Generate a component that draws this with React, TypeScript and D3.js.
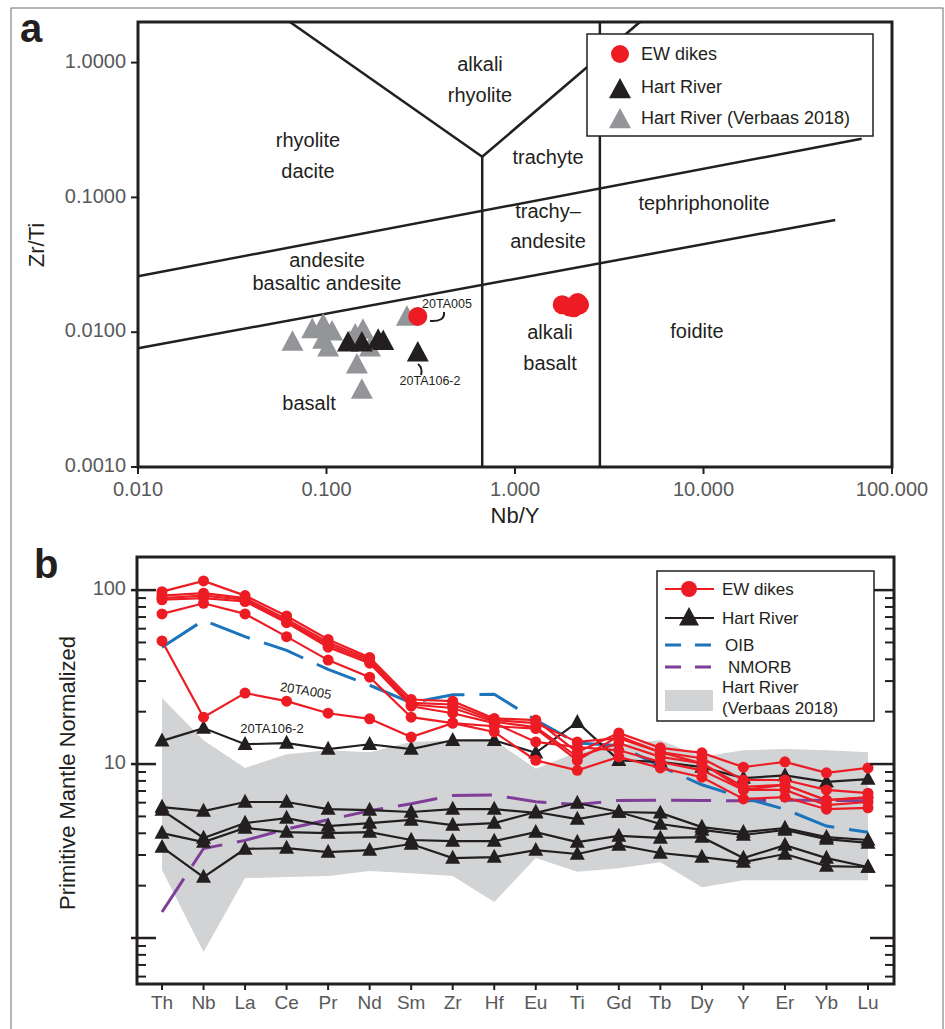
import React from 'react';
import * as d3 from 'd3';

// ---- panel a data (Nb/Y vs Zr/Ti) ----
const ewDikesNbY = [0.305, 1.78, 1.95, 2.05, 2.15, 2.2];
const ewDikesZrTi = [0.0131, 0.016, 0.0154, 0.0152, 0.0166, 0.016];

const hartNbY = [0.13, 0.154, 0.188, 0.2, 0.305];
const hartZrTi = [0.0083, 0.0083, 0.0087, 0.0085, 0.007];

const verbaasNbY = [0.066, 0.084, 0.096, 0.107, 0.096, 0.102, 0.145, 0.154, 0.156, 0.142, 0.17, 0.267, 0.133];
const verbaasZrTi = [0.0084, 0.0104, 0.0113, 0.01, 0.0087, 0.0076, 0.0057, 0.0037, 0.0103, 0.0095, 0.0076, 0.0129, 0.0084];

// field boundaries [[x1, y1], [x2, y2]]
const fieldLines: [number, number][][] = [
  [[0.064, 2.0], [0.67, 0.2]],
  [[0.67, 0.2], [4.6, 2.0]],
  [[0.67, 0.2], [0.67, 0.001]],
  [[2.82, 2.0], [2.82, 0.001]],
  [[0.01, 0.026], [69, 0.272]],
  [[0.01, 0.0076], [50, 0.068]],
];

const xTicksA = [0.01, 0.1, 1, 10, 100];
const xTickLabelsA = ['0.010', '0.100', '1.000', '10.000', '100.000'];
const yTicksA = [0.001, 0.01, 0.1, 1];
const yTickLabelsA = ['0.0010', '0.0100', '0.1000', '1.0000'];

// ---- panel b data (spider diagram) ----
const elements = ['Th', 'Nb', 'La', 'Ce', 'Pr', 'Nd', 'Sm', 'Zr', 'Hf', 'Eu', 'Ti', 'Gd', 'Tb', 'Dy', 'Y', 'Er', 'Yb', 'Lu'];

const ewDike1 = [98, 113, 93, 71, 52, 41, 23.5, 23, 18.3, 17.9, 11.7, 15.1, 12.4, 11.6, 9.6, 10.3, 8.9, 9.5];
const ewDike2 = [93, 96, 90, 68, 50, 40, 22.5, 22, 17.9, 17.2, 13.4, 14.1, 11.7, 10.8, 8.1, 8.1, 7.1, 6.8];
const ewDike3 = [90, 93, 88, 66, 48.5, 39, 22, 21, 17.5, 16.3, 11, 13.2, 11, 10.1, 7.4, 7.6, 6.2, 6.45];
const ewDike4 = [88, 90, 86, 65, 47, 38, 21.5, 19.6, 17.2, 13.4, 12.5, 12, 10.3, 9.2, 7.1, 7.1, 5.8, 6.05];
const ewDike5 = [73, 84, 73, 54, 39.6, 31.6, 18.6, 17.2, 15.3, 10.5, 9.2, 11, 9.5, 8.4, 6.3, 6.45, 5.5, 5.6];
const ew20TA005 = [51, 18.6, 25.6, 23, 19.6, 18.2, 14.3, 17.2, 16.5, 16, 10.5, 14.5, 11.7, 10.1, 7.1, 7.6, 6.2, 6.4];

const hr20TA106 = [13.6, 16.1, 13, 13.2, 12.2, 13, 12.2, 13.7, 13.7, 11.6, 17.4, 10.5, 10.3, 9.6, 8.3, 8.6, 7.9, 8.2];
const hart2 = [5.66, 5.37, 6.05, 6.05, 5.51, 5.44, 5.3, 5.51, 5.51, 5.24, 5.97, 5.3, 5.24, 4.34, 4.06, 4.29, 3.8, 3.66];
const hart3 = [5.44, 3.76, 4.58, 4.89, 4.4, 4.58, 4.77, 4.46, 4.58, 5.3, 4.83, 5.3, 4.52, 4.18, 3.91, 4.18, 3.7, 3.52];
const hart4 = [4.01, 3.56, 4.29, 4.06, 4.01, 4.06, 3.66, 3.61, 3.61, 4.06, 3.56, 3.86, 3.76, 3.8, 2.88, 3.42, 2.88, 2.56];
const hart5 = [3.33, 2.24, 3.25, 3.29, 3.12, 3.2, 3.47, 2.88, 2.92, 3.2, 3.04, 3.42, 3.08, 2.92, 2.73, 3.04, 2.59, 2.56];

const oib = [47, 67, 54, 45, 35, 28.4, 22.5, 25, 25.2, 17.9, 13.2, 12.8, 9.7, 7.6, 6.4, 5.5, 4.4, 4.05];
const nmorb = [1.41, 3.27, 3.64, 4.23, 4.78, 5.39, 5.92, 6.6, 6.63, 6.07, 5.85, 6.17, 6.2, 6.17, 6.15, 6.19, 6.19, 6.15];

const verbaasUpper = [24, 13.7, 9.5, 11.4, 12, 11.7, 13.4, 13.7, 13.7, 9.4, 11.7, 12.9, 13.7, 11, 12, 12.2, 12, 11.7];
const verbaasLower = [2.46, 0.83, 2.21, 2.24, 2.27, 2.43, 2.36, 2.27, 1.61, 2.88, 2.4, 2.52, 2.73, 1.96, 2.15, 2.15, 2.15, 2.15];

const yMajorB = [1, 10, 100];
const yMajorLabelsB = ['', '10', '100'];

const RED = '#ed1c24';
const BLACK = '#231f20';
const GRAY_TRI = '#939598';
const ENVELOPE = '#d1d3d4';
const BLUE = '#1c75bc';
const PURPLE = '#7f3f98';
const TICK_TEXT = '#58595b';
const FONT = '"Liberation Sans", Arial, Helvetica, sans-serif';

const tri = (cx: number, cy: number, w: number) =>
  `M${cx},${cy - w * 0.55}L${cx + w / 2},${cy + w * 0.38}L${cx - w / 2},${cy + w * 0.38}Z`;

const PanelA = () => {
  const x = d3.scaleLog().domain([0.01, 100]).range([138, 892]);
  const y = d3.scaleLog().domain([0.001, 2.0]).range([467, 22]);

  const regionLabels: [string, number, number][] = [
    ['alkali', 480, 66], ['rhyolite', 480, 97],
    ['rhyolite', 308, 142], ['dacite', 308, 173],
    ['trachyte', 548, 159],
    ['tephriphonolite', 704, 205],
    ['trachy\u2013', 548, 213], ['andesite', 548, 243],
    ['andesite', 327, 262], ['basaltic andesite', 327, 285],
    ['alkali', 550, 334], ['basalt', 550, 365],
    ['foidite', 697, 333],
    ['basalt', 309, 405],
  ];

  return (
    <g fontFamily={FONT}>
      <text x={20} y={42} fontSize={40} fontWeight="bold" fill={BLACK}>a</text>

      {fieldLines.map((l, i) => (
        <line key={i} x1={x(l[0][0])} y1={y(l[0][1])} x2={x(l[1][0])} y2={y(l[1][1])}
          stroke={BLACK} strokeWidth={2.5} />
      ))}

      {regionLabels.map(([t, lx, ly], i) => (
        <text key={i} x={lx} y={ly} textAnchor="middle" dominantBaseline="middle" fontSize={20} fill={BLACK}>{t}</text>
      ))}

      {verbaasNbY.map((v, i) => (
        <path key={'g' + i} d={tri(x(v), y(verbaasZrTi[i]), 22)} fill={GRAY_TRI} />
      ))}
      {hartNbY.map((v, i) => (
        <path key={'h' + i} d={tri(x(v), y(hartZrTi[i]), 22)} fill={BLACK} />
      ))}
      {ewDikesNbY.map((v, i) => (
        <circle key={'e' + i} cx={x(v)} cy={y(ewDikesZrTi[i])} r={9.5} fill={RED} />
      ))}

      {/* sample call-outs */}
      <text x={447} y={308} textAnchor="middle" fontSize={12.5} fill={BLACK}>20TA005</text>
      <path d="M430,321 Q445,322 444,312" fill="none" stroke={BLACK} strokeWidth={2} />
      <text x={430} y={385} textAnchor="middle" fontSize={12.5} fill={BLACK}>20TA106-2</text>
      <path d="M418,364 Q423,368 421,375" fill="none" stroke={BLACK} strokeWidth={2} />

      {/* frame */}
      <rect x={138} y={22} width={754} height={445} fill="none" stroke={BLACK} strokeWidth={3} />

      {yTicksA.map((t, i) => (
        <g key={t}>
          <line x1={131} x2={138} y1={y(t)} y2={y(t)} stroke={BLACK} strokeWidth={2} />
          <text x={126} y={y(t)} textAnchor="end" dominantBaseline="middle" fontSize={20} fill={TICK_TEXT}>{yTickLabelsA[i]}</text>
        </g>
      ))}
      {xTicksA.map((t, i) => (
        <g key={t}>
          <line x1={x(t)} x2={x(t)} y1={467} y2={474} stroke={BLACK} strokeWidth={2} />
          <text x={x(t)} y={496} textAnchor="middle" fontSize={20} fill={TICK_TEXT}>{xTickLabelsA[i]}</text>
        </g>
      ))}

      <text transform="translate(44,245) rotate(-90)" textAnchor="middle" fontSize={22} fill={BLACK}>Zr/Ti</text>
      <text x={515} y={523} textAnchor="middle" fontSize={22} fill={BLACK}>Nb/Y</text>

      {/* legend */}
      <rect x={587} y={34} width={286} height={102} fill="#fff" stroke={BLACK} strokeWidth={1.5} />
      <circle cx={620} cy={54} r={9} fill={RED} />
      <text x={641} y={60} fontSize={18} fill={BLACK}>EW dikes</text>
      <path d={tri(620, 90, 22)} fill={BLACK} />
      <text x={641} y={93} fontSize={18} fill={BLACK}>Hart River</text>
      <path d={tri(620, 120, 22)} fill={GRAY_TRI} />
      <text x={641} y={124} fontSize={18} fill={BLACK}>Hart River (Verbaas 2018)</text>
    </g>
  );
};

const PanelB = () => {
  const x = d3.scalePoint<string>().domain(elements).range([162, 868]);
  const y = d3.scaleLog().domain([0.544, 155]).range([984, 557]);

  const line = d3.line<number>()
    .x((_, i) => x(elements[i]) as number)
    .y(d => y(d));

  const area = d3.area<number>()
    .x((_, i) => x(elements[i]) as number)
    .y0((_, i) => y(verbaasLower[i]))
    .y1(d => y(d));

  const redSeries = [ewDike1, ewDike2, ewDike3, ewDike4, ewDike5, ew20TA005];
  const blackSeries = [hr20TA106, hart2, hart3, hart4, hart5];

  const minor: number[] = [];
  [0.1, 1, 10, 100].forEach(dec => {
    for (let k = 2; k <= 9; k++) {
      const v = dec * k;
      if (v >= 0.544 && v <= 155) minor.push(v);
    }
  });

  return (
    <g fontFamily={FONT}>
      <text x={34} y={578} fontSize={40} fontWeight="bold" fill={BLACK}>b</text>

      <path d={area(verbaasUpper) || ''} fill={ENVELOPE} />

      <path d={line(nmorb) || ''} fill="none" stroke={PURPLE} strokeWidth={3} strokeDasharray="40 15" />
      <path d={line(oib) || ''} fill="none" stroke={BLUE} strokeWidth={3} strokeDasharray="42 15" />

      {blackSeries.map((s, si) => (
        <g key={'b' + si}>
          <path d={line(s) || ''} fill="none" stroke={BLACK} strokeWidth={2.2} />
          {s.map((v, i) => (
            <path key={i} d={tri(x(elements[i]) as number, y(v), 15)} fill={BLACK} />
          ))}
        </g>
      ))}

      {redSeries.map((s, si) => (
        <g key={'r' + si}>
          <path d={line(s) || ''} fill="none" stroke={RED} strokeWidth={2.2} />
          {s.map((v, i) => (
            <circle key={i} cx={x(elements[i]) as number} cy={y(v)} r={5.5} fill={RED} />
          ))}
        </g>
      ))}

      <text transform="translate(305,695) rotate(9)" textAnchor="middle" fontSize={13} fill={BLACK}>20TA005</text>
      <text x={272} y={733} textAnchor="middle" fontSize={13} fill={BLACK}>20TA106-2</text>

      {/* frame and ticks */}
      <rect x={137} y={557} width={757} height={427} fill="none" stroke={BLACK} strokeWidth={3} />
      {yMajorB.map((t, i) => (
        <g key={t}>
          <line x1={131} x2={156} y1={y(t)} y2={y(t)} stroke={BLACK} strokeWidth={2.5} />
          <line x1={870} x2={894} y1={y(t)} y2={y(t)} stroke={BLACK} strokeWidth={2.5} />
          {yMajorLabelsB[i] && (
            <text x={126} y={y(t)} textAnchor="end" dominantBaseline="middle" fontSize={20} fill={TICK_TEXT}>{yMajorLabelsB[i]}</text>
          )}
        </g>
      ))}
      {minor.map(t => (
        <g key={'m' + t}>
          <line x1={137} x2={146} y1={y(t)} y2={y(t)} stroke={BLACK} strokeWidth={2} />
          <line x1={885} x2={894} y1={y(t)} y2={y(t)} stroke={BLACK} strokeWidth={2} />
        </g>
      ))}
      {elements.map(e => (
        <g key={e}>
          <line x1={x(e) as number} x2={x(e) as number} y1={984} y2={990} stroke={BLACK} strokeWidth={2} />
          <text x={x(e) as number} y={1009} textAnchor="middle" fontSize={19} fill={TICK_TEXT}>{e}</text>
        </g>
      ))}

      <text transform="translate(75,773) rotate(-90)" textAnchor="middle" fontSize={22} fill={BLACK}>Primitive Mantle Normalized</text>

      {/* legend */}
      <rect x={657} y={571} width={217} height={150} fill="#fff" stroke={BLACK} strokeWidth={1.5} />
      <line x1={665} x2={714} y1={589} y2={589} stroke={RED} strokeWidth={2} />
      <circle cx={689} cy={589} r={8} fill={RED} />
      <text x={722} y={595} fontSize={17} fill={BLACK}>EW dikes</text>
      <line x1={665} x2={714} y1={618} y2={618} stroke={BLACK} strokeWidth={2} />
      <path d={tri(689, 618, 20)} fill={BLACK} />
      <text x={722} y={624} fontSize={17} fill={BLACK}>Hart River</text>
      <line x1={665} x2={714} y1={645} y2={645} stroke={BLUE} strokeWidth={3} strokeDasharray="16 14" />
      <text x={725} y={651} fontSize={17} fill={BLACK}>OIB</text>
      <line x1={665} x2={714} y1={667} y2={667} stroke={PURPLE} strokeWidth={3} strokeDasharray="16 14" />
      <text x={728} y={673} fontSize={17} fill={BLACK}>NMORB</text>
      <rect x={665} y={690} width={48} height={21} fill={ENVELOPE} />
      <text x={722} y={693} fontSize={17} fill={BLACK}>Hart River</text>
      <text x={722} y={714} fontSize={17} fill={BLACK}>(Verbaas 2018)</text>
    </g>
  );
};

export default function App() {
  return (
    <svg width={945} height={1029} style={{ position: 'absolute', left: 0, top: 0, background: '#fff' }}>
      <rect x={11} y={8} width={932} height={1040} fill="none" stroke="#6d6e71" strokeWidth={1} />
      <PanelA />
      <PanelB />
    </svg>
  );
}
